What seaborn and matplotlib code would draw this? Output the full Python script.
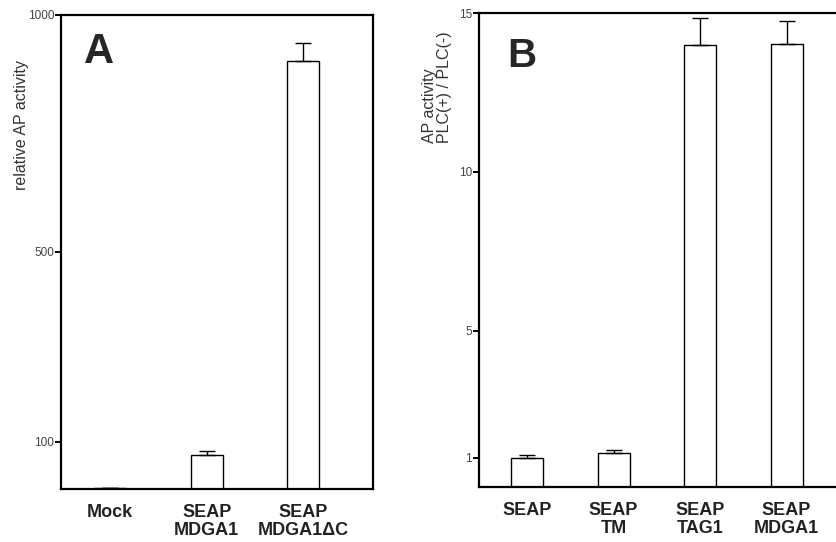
import numpy as np
import matplotlib
matplotlib.use("Agg")
import matplotlib.pyplot as plt
import seaborn as sns

# Panel A data
cats_a = ["Mock", "SEAP\nMDGA1", "SEAP\nMDGA1\u0394C"]
vals_a = [3, 72, 903]
errs_a = [0, 8, 38]
yticks_a = [100, 500, 1000]

# Panel B data
cats_b = ["SEAP", "SEAP\nTM", "SEAP\nTAG1", "SEAP\nMDGA1"]
vals_b = [1.0, 1.16, 13.99, 14.02]
errs_b = [0.09, 0.09, 0.86, 0.72]
yticks_b = [1, 5, 10, 15]

sns.set_style("ticks")
plt.rcParams["font.family"] = ["Liberation Sans", "DejaVu Sans"]

W, H = 836, 542
fig = plt.figure(figsize=(W / 100, H / 100), dpi=100)

def frac_box(l, t, r, b):
    return [l / W, 1 - b / H, (r - l) / W, (b - t) / H]

ax_a = fig.add_axes(frac_box(61, 15, 373, 489))
ax_b = fig.add_axes(frac_box(479, 13, 870, 487))

def draw(ax, cats, vals, errs, width, ylim, yticks, xlim, capsize):
    sns.barplot(x=cats, y=vals, ax=ax, color="white", edgecolor="black",
                linewidth=1.0, width=width, errorbar=None, saturation=1)
    n = len(vals)
    ax.errorbar(np.arange(n), vals, yerr=[np.zeros(n), errs], fmt="none",
                ecolor="black", elinewidth=1.0, capsize=capsize, capthick=1.0,
                zorder=5)
    ax.set_ylim(*ylim)
    ax.set_xlim(*xlim)
    ax.set_yticks(yticks)
    ax.set_yticklabels([str(t) for t in yticks])
    for s in ax.spines.values():
        s.set_visible(True)
        s.set_linewidth(1.6)
        s.set_color("black")
    ax.tick_params(axis="y", length=4, width=1.4, pad=1, labelsize=8.5,
                   labelcolor="#444444", color="black", direction="out")
    ax.tick_params(axis="x", length=0, pad=11, labelsize=13,
                   labelcolor="#222222")
    for lab in ax.get_xticklabels():
        lab.set_fontweight("bold")
        lab.set_linespacing(1.05)
    ax.set_xlabel("")
    ax.set_ylabel("")

draw(ax_a, cats_a, vals_a, errs_a, 0.33, (0, 1000), yticks_a, (-0.51, 2.723), 6)
draw(ax_b, cats_b, vals_b, errs_b, 0.37, (0.08, 15), yticks_b, (-0.555, 3.965), 6)

fig.text(22 / W, 1 - 190 / H, "relative AP activity", rotation=90,
         ha="center", va="bottom", fontsize=11.5, color="#333333")
fig.text(437 / W, 1 - 143 / H, "AP activity\nPLC(+) / PLC(-)", rotation=90,
         ha="center", va="bottom", multialignment="left", fontsize=11.5,
         color="#333333", linespacing=0.95)

fig.text(84 / W, 1 - 63 / H, "A", fontsize=30, fontweight="bold",
         ha="left", va="baseline")
fig.text(507 / W, 1 - 67 / H, "B", fontsize=29, fontweight="bold",
         ha="left", va="baseline")

fig.savefig("out.png", dpi=100)
